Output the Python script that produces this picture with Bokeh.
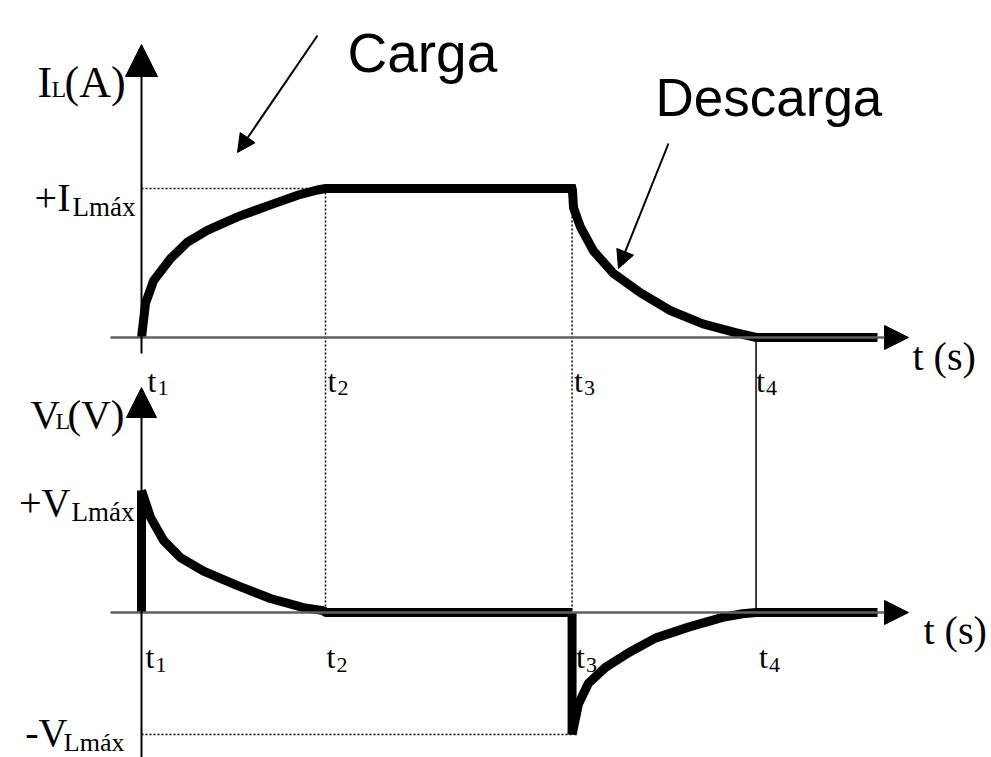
from bokeh.plotting import figure
from bokeh.models import Range1d, Arrow, NormalHead
from bokeh.core.properties import value
from bokeh.embed import file_html
from bokeh.resources import INLINE

# ---------------- data (time in units, t1 = 0) ----------------
t_marks = [0.0, 1.0, 2.34, 3.34]          # t1, t2, t3, t4
t_names = ["1", "2", "3", "4"]
t_end = 4.0                                 # end of the drawn signal

# inductor current (I / I_Lmax)
charge_t = [0.0, 0.022, 0.065, 0.158, 0.25, 0.359, 0.522, 0.701, 0.848, 0.957, 1.0]
charge_i = [0.0, 0.23, 0.38, 0.53, 0.64, 0.72, 0.81, 0.89, 0.955, 0.99, 1.0]
discharge_t = [2.34, 2.342, 2.348, 2.386, 2.457, 2.565, 2.712, 2.875, 3.054, 3.239, 3.34]
discharge_i = [1.0, 0.99, 0.87, 0.74, 0.58, 0.43, 0.30, 0.18, 0.09, 0.03, 0.0]

# inductor voltage (V / V_Lmax)
vcharge_t = [0.0, 0.0, 0.049, 0.12, 0.212, 0.337, 0.522, 0.701, 0.88, 0.989, 1.0]
vcharge_v = [0.0, 1.0, 0.78, 0.59, 0.45, 0.34, 0.22, 0.115, 0.04, 0.015, 0.0]
vdis_t = [2.34, 2.34, 2.375, 2.429, 2.522, 2.647, 2.793, 2.973, 3.158, 3.266, 3.34]
vdis_v = [0.0, -1.0, -0.75, -0.58, -0.45, -0.33, -0.21, -0.12, -0.04, -0.01, 0.0]

I_max = 1.0
V_max = 1.0

# ---------------- layout helpers ----------------
PX_T = 184.0      # px per time unit
PX_I = 149.0      # px per current unit
PX_V = 122.0      # px per voltage unit
W, H = 991, 757
x0_px, iy0_px, vy0_px = 141.0, 337.0, 612.0   # origin positions inside the figure (px)

def px_to_t(px):
    return (px - x0_px) / PX_T

def py_to_i(py):
    return (iy0_px - py) / PX_I

def py_to_v(py):
    return (vy0_px - py) / PX_V

def v_to_i(v):
    return py_to_i(vy0_px - v * PX_V)

p = figure(width=W, height=H, output_backend="svg", toolbar_location=None,
           x_range=Range1d(px_to_t(0), px_to_t(W)),
           y_range=Range1d(py_to_i(H), py_to_i(0)),
           x_axis_location=None, y_axis_location=None, min_border=0)
p.extra_y_ranges = {"v": Range1d(py_to_v(H), py_to_v(0))}
p.grid.visible = False
p.outline_line_color = None
p.background_fill_color = "white"

serif = value("Liberation Serif")
sans = value("Liberation Sans")

# ---------------- guide lines ----------------
dot = dict(line_color="black", line_width=1.5, line_dash="2 2")
p.line([t_marks[0], t_marks[1]], [I_max, I_max], **dot)
p.line([t_marks[0], t_marks[2]], [-V_max, -V_max], y_range_name="v", **dot)
p.line([t_marks[1], t_marks[1]], [I_max, v_to_i(0)], **dot)
p.line([t_marks[2], t_marks[2]], [I_max * 0.92, v_to_i(0)], **dot)
p.line([t_marks[3], t_marks[3]], [0, v_to_i(0)], line_color="black", line_width=1.5)

# ---------------- axes (drawn as arrows) ----------------
x_left = px_to_t(110)
x_tip = px_to_t(908)
p.add_layout(Arrow(x_start=x_left, y_start=0, x_end=x_tip, y_end=0,
                   line_color="#606060", line_width=2.5,
                   end=NormalHead(size=24, fill_color="black", line_color="black")))
p.add_layout(Arrow(x_start=x_left, y_start=0, x_end=x_tip, y_end=0,
                   line_color="#606060", line_width=2.5, y_range_name="v",
                   end=NormalHead(size=24, fill_color="black", line_color="black")))
p.add_layout(Arrow(x_start=0, y_start=py_to_i(353), x_end=0, y_end=py_to_i(44),
                   line_color="black", line_width=2,
                   end=NormalHead(size=32, fill_color="black", line_color="black")))
p.add_layout(Arrow(x_start=0, y_start=py_to_v(H + 20), x_end=0, y_end=py_to_v(387),
                   line_color="black", line_width=2, y_range_name="v",
                   end=NormalHead(size=30, fill_color="black", line_color="black")))

# ---------------- signals ----------------
thick = dict(line_color="black", line_width=9, line_join="miter")
i_t = charge_t + discharge_t + [t_end]
i_v = charge_i + discharge_i + [0.0]
p.line(i_t, i_v, **thick)

# voltage drawn in pieces so the jumps end square
v_xs = [vcharge_t[:2], vcharge_t[1:] + vdis_t[:1], vdis_t[:2], vdis_t[1:] + [t_end]]
v_ys = [vcharge_v[:2], vcharge_v[1:] + vdis_v[:1], vdis_v[:2], vdis_v[1:] + [0.0]]
p.multi_line(v_xs, v_ys, y_range_name="v", line_color="black", line_width=9,
             line_join="round", line_cap="butt")

# ---------------- texts ----------------
def txt(x, y, s, size, font=serif, rng="default", align="left"):
    p.text(x=[x], y=[y], text=[s], text_font=font, text_font_size=value(size),
           text_baseline="alphabetic", text_align=align, text_color="black",
           y_range_name=rng)

# axis names
txt(px_to_t(37), py_to_i(82), "I", "44px")
txt(px_to_t(51), py_to_i(88), "L", "24px")
txt(px_to_t(64), py_to_i(82), "(A)", "44px")
txt(px_to_t(30), py_to_v(413), "V", "41px", rng="v")
txt(px_to_t(55), py_to_v(420), "L", "24px", rng="v")
txt(px_to_t(67), py_to_v(413), "(V)", "41px", rng="v")

# level labels
txt(px_to_t(70), py_to_i(197), "+I", "40px", align="right")
txt(px_to_t(135), py_to_i(206), "Lmáx", "27px", align="right")
txt(px_to_t(70), py_to_v(502), "+V", "40px", rng="v", align="right")
txt(px_to_t(134), py_to_v(511), "Lmáx", "27px", rng="v", align="right")
txt(px_to_t(67), py_to_v(732), "-V", "40px", rng="v", align="right")
txt(px_to_t(124), py_to_v(742), "Lmáx", "26px", rng="v", align="right")

# time axis titles
txt(px_to_t(912), py_to_i(356), "t (s)", "40px")
txt(px_to_t(923), py_to_v(630), "t (s)", "40px", rng="v")

# t marks
top_dx = [6, 2, 2, 0]
bot_dx = [4, 1, 4, 3]
for tm, nm, dx in zip(t_marks, t_names, top_dx):
    xs = tm + dx / PX_T
    txt(xs, py_to_i(380), "t", "32px")
    txt(xs + 10 / PX_T, py_to_i(387), nm, "22px")
for tm, nm, dx in zip(t_marks, t_names, bot_dx):
    xs = tm + dx / PX_T
    txt(xs, py_to_v(656), "t", "32px", rng="v")
    txt(xs + 10 / PX_T, py_to_v(664), nm, "22px", rng="v")

# annotations
txt(px_to_t(347), py_to_i(52), "Carga", "55px", font=sans)
txt(px_to_t(655), py_to_i(97), "Descarga", "53px", font=sans)
p.add_layout(Arrow(x_start=px_to_t(317), y_start=py_to_i(35),
                   x_end=px_to_t(237), y_end=py_to_i(152),
                   line_color="black", line_width=2,
                   end=NormalHead(size=18, fill_color="black", line_color="black")))
p.add_layout(Arrow(x_start=px_to_t(668), y_start=py_to_i(143),
                   x_end=px_to_t(618), y_end=py_to_i(268),
                   line_color="black", line_width=2,
                   end=NormalHead(size=18, fill_color="black", line_color="black")))

open("out.html", "w").write(file_html(p, INLINE))
